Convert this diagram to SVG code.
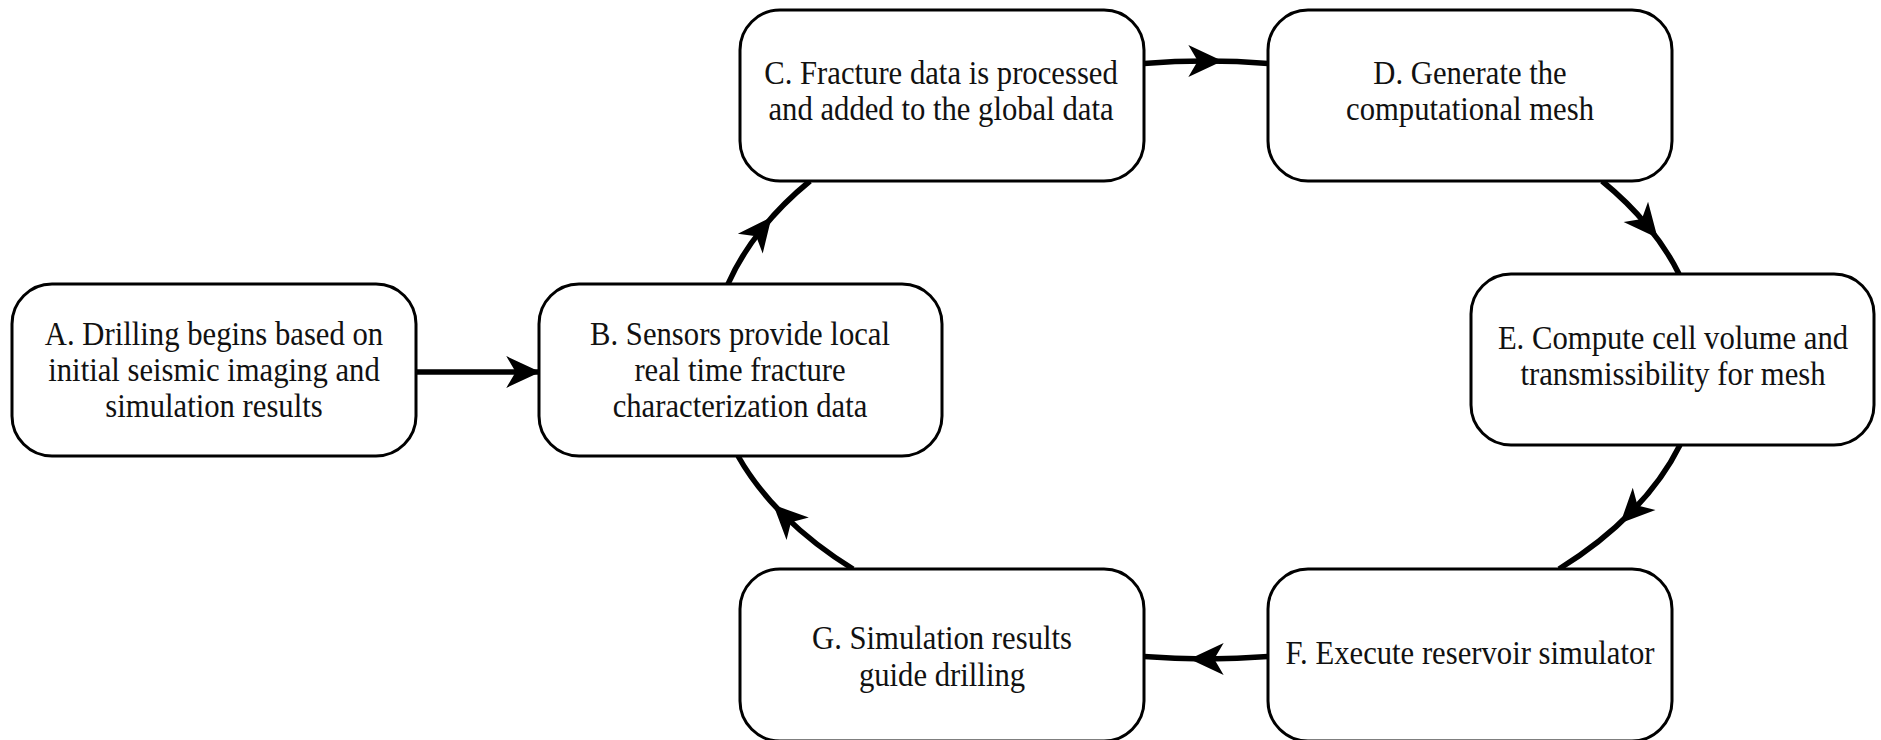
<svg xmlns="http://www.w3.org/2000/svg" width="1881" height="740" viewBox="0 0 1881 740">
<style>
.box{fill:#fff;stroke:#000;stroke-width:3}
.lbl{font-family:"Liberation Serif","Times New Roman",serif;font-size:33px;fill:#111;text-anchor:middle}
.con{fill:none;stroke:#000;stroke-width:5.5}
</style>
<defs>
<marker id="endArrow" markerUnits="userSpaceOnUse" markerWidth="40" markerHeight="40" refX="0" refY="0" orient="auto" viewBox="-32 -16 34 32" overflow="visible">
<path d="M2,0 L-27,-13.5 L-19,0 L-27,13.5 Z" fill="#000"/>
</marker>
<marker id="midArrow" markerUnits="userSpaceOnUse" markerWidth="40" markerHeight="40" refX="-12" refY="0" orient="auto" viewBox="-32 -16 34 32" overflow="visible">
<path d="M2,0 L-27,-13.5 L-19,0 L-27,13.5 Z" fill="#000"/>
</marker>
</defs>
<rect width="1881" height="740" fill="#fff"/>
<g id="connectors">
<path class="con" d="M416,372 L538,372" marker-end="url(#endArrow)"/>
<path class="con" d="M728,284 A494,299 0 0 1 761.3,229.9 A494,299 0 0 1 810,181" marker-mid="url(#midArrow)"/>
<path class="con" d="M1144,63.4 A494,299 0 0 1 1206,61 A494,299 0 0 1 1268,63.4" marker-mid="url(#midArrow)"/>
<path class="con" d="M1602,181 A494,299 0 0 1 1647.1,225.4 A494,299 0 0 1 1679,274" marker-mid="url(#midArrow)"/>
<path class="con" d="M1680,445 A494,299 0 0 1 1631.8,511.5 A494,299 0 0 1 1559,569" marker-mid="url(#midArrow)"/>
<path class="con" d="M1268,656.6 A494,299 0 0 1 1206,659 A494,299 0 0 1 1144,656.6" marker-mid="url(#midArrow)"/>
<path class="con" d="M853,569 A494,299 0 0 1 785.1,516.4 A494,299 0 0 1 738,456" marker-mid="url(#midArrow)"/>
</g>
<g id="nodeA">
<rect class="box" x="12" y="284" width="404" height="172" rx="40"/>
<text class="lbl" transform="translate(214 0) scale(0.93 1)"><tspan x="0" y="345">A. Drilling begins based on</tspan><tspan x="0" y="381">initial seismic imaging and</tspan><tspan x="0" y="417">simulation results</tspan></text>
</g>
<g id="nodeB">
<rect class="box" x="539" y="284" width="403" height="172" rx="40"/>
<text class="lbl" transform="translate(740 0) scale(0.93 1)"><tspan x="0" y="345">B. Sensors provide local</tspan><tspan x="0" y="381">real time fracture</tspan><tspan x="0" y="417">characterization data</tspan></text>
</g>
<g id="nodeC">
<rect class="box" x="740" y="10" width="404" height="171" rx="40"/>
<text class="lbl" transform="translate(941 0) scale(0.93 1)"><tspan x="0" y="84">C. Fracture data is processed</tspan><tspan x="0" y="120">and added to the global data</tspan></text>
</g>
<g id="nodeD">
<rect class="box" x="1268" y="10" width="404" height="171" rx="40"/>
<text class="lbl" transform="translate(1470 0) scale(0.93 1)"><tspan x="0" y="84">D. Generate the</tspan><tspan x="0" y="120">computational mesh</tspan></text>
</g>
<g id="nodeE">
<rect class="box" x="1471" y="274" width="403" height="171" rx="40"/>
<text class="lbl" transform="translate(1673 0) scale(0.93 1)"><tspan x="0" y="349">E. Compute cell volume and</tspan><tspan x="0" y="385">transmissibility for mesh</tspan></text>
</g>
<g id="nodeF">
<rect class="box" x="1268" y="569" width="404" height="172" rx="40"/>
<text class="lbl" transform="translate(1470 0) scale(0.93 1)"><tspan x="0" y="664">F. Execute reservoir simulator</tspan></text>
</g>
<g id="nodeG">
<rect class="box" x="740" y="569" width="404" height="172" rx="40"/>
<text class="lbl" transform="translate(942 0) scale(0.93 1)"><tspan x="0" y="649">G. Simulation results</tspan><tspan x="0" y="686">guide drilling</tspan></text>
</g>
</svg>
